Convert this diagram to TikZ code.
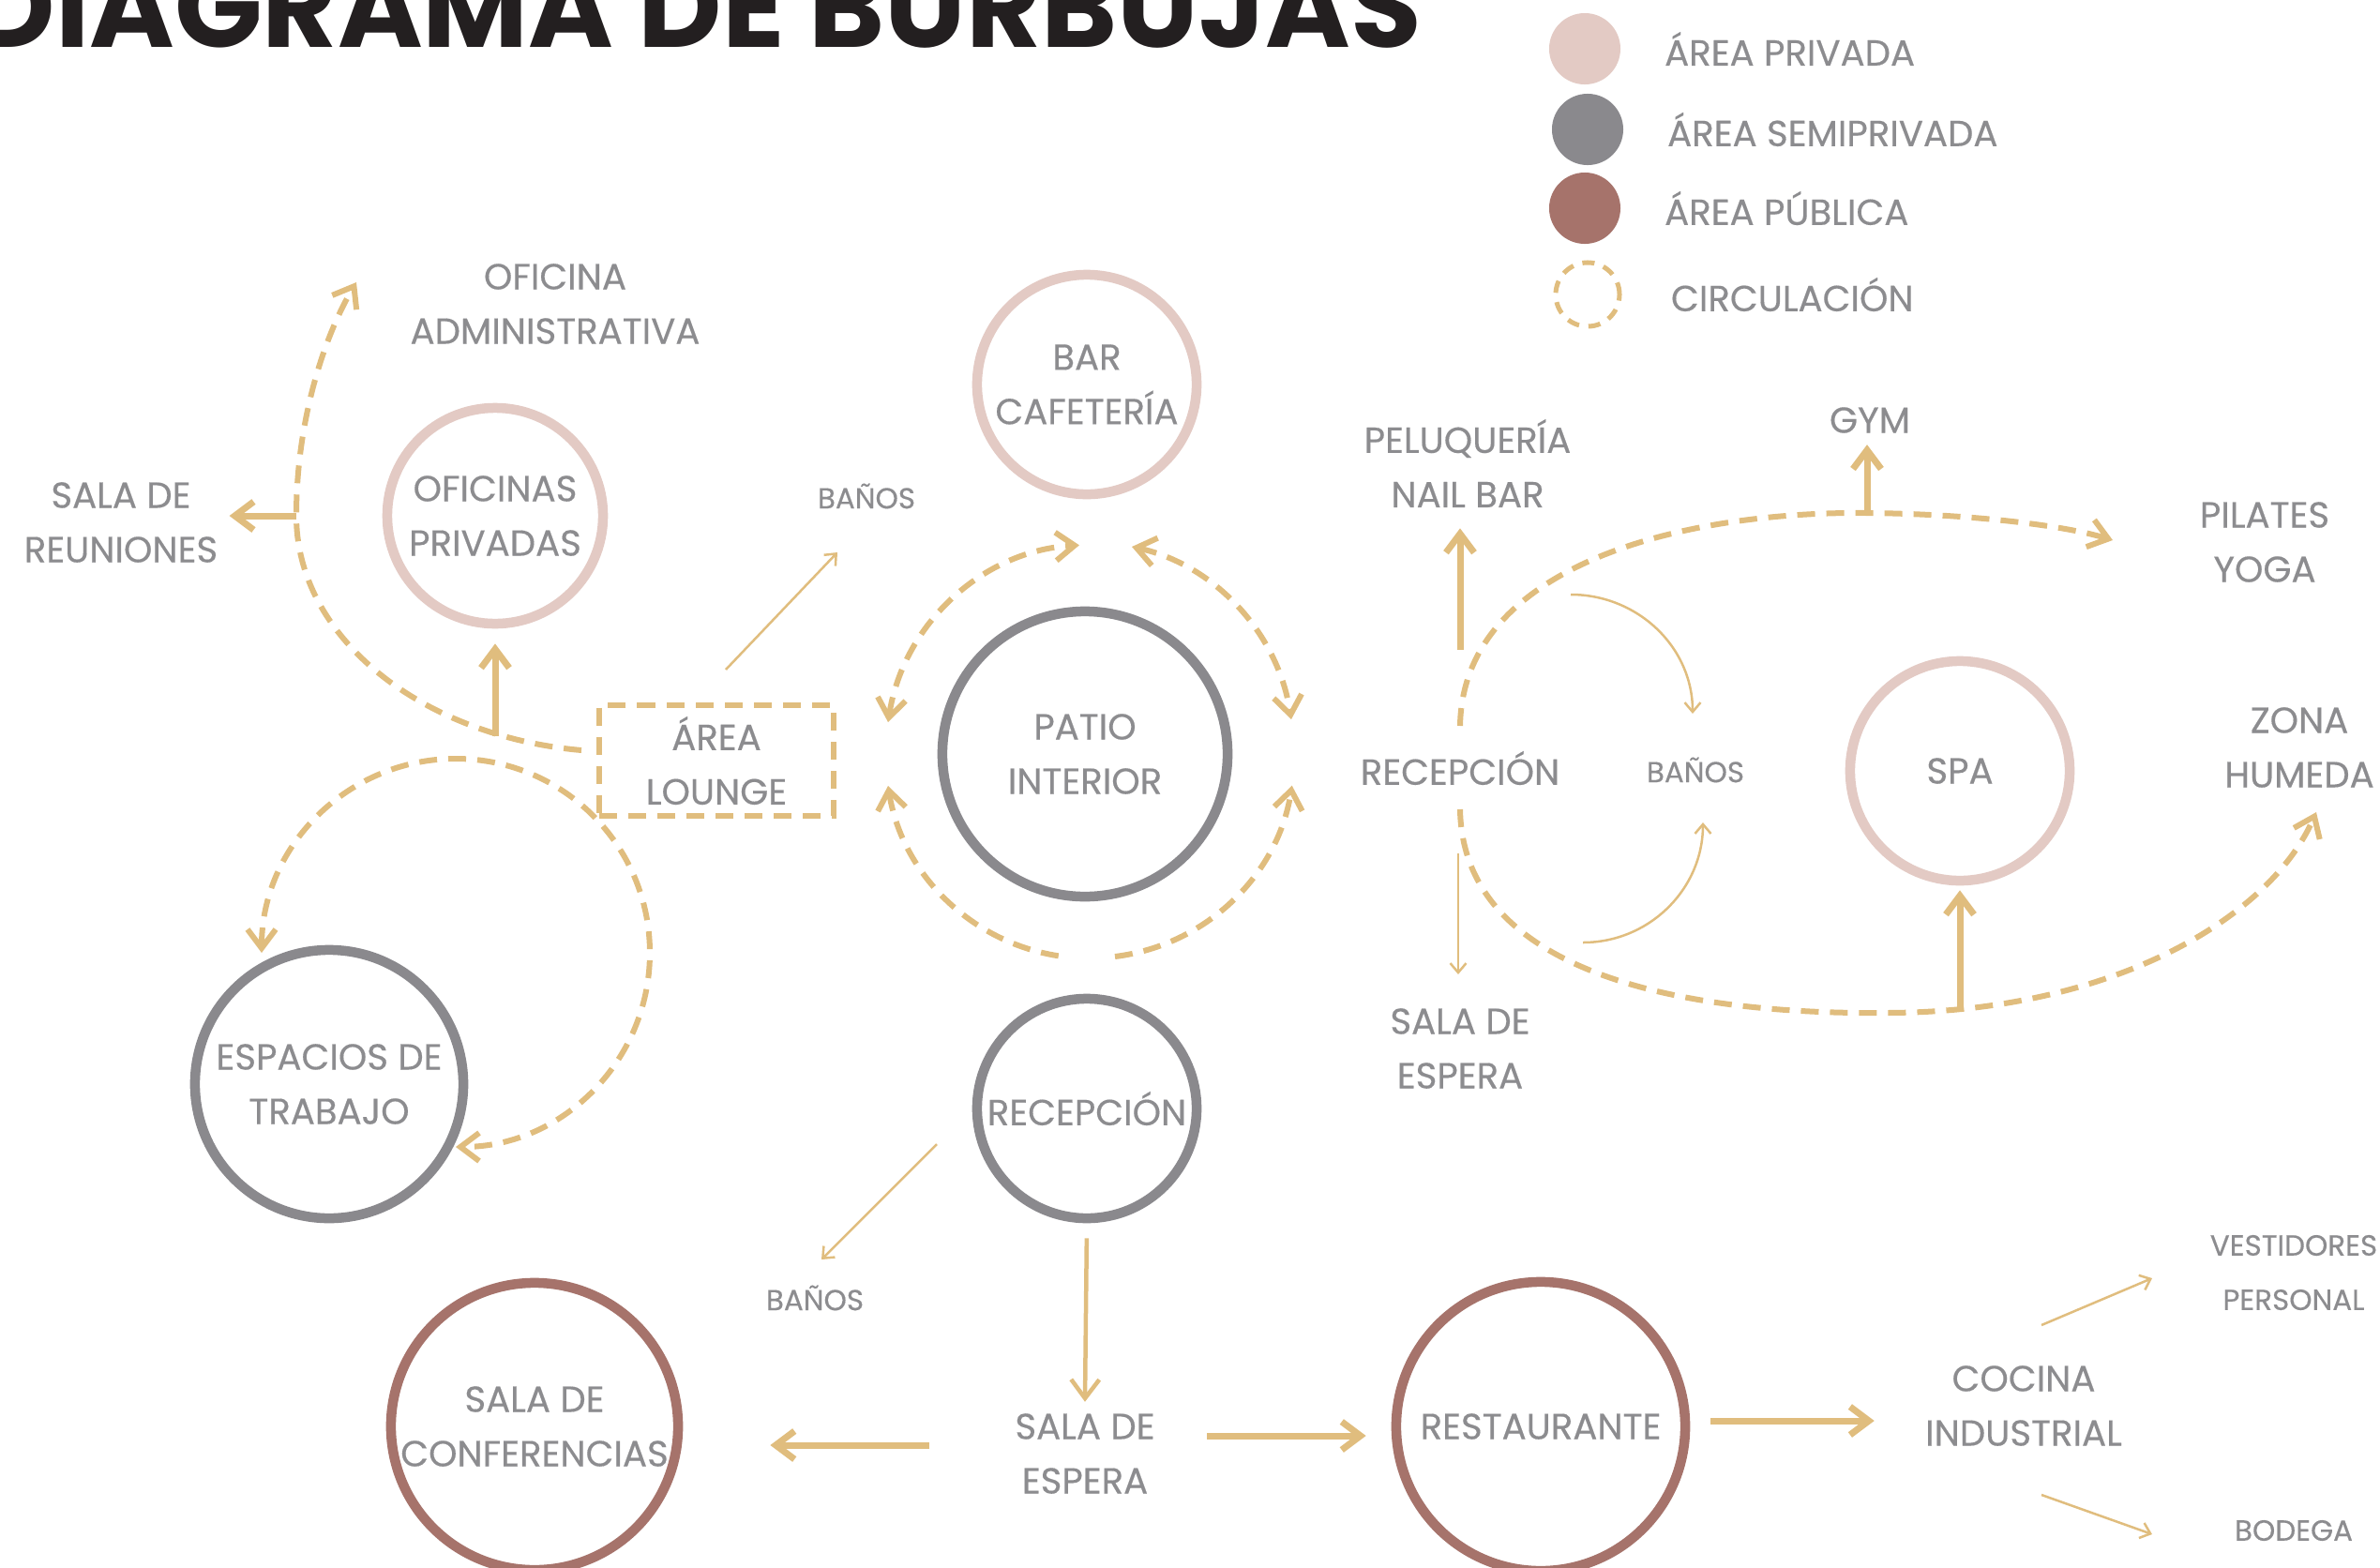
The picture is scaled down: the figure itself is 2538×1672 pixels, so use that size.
\documentclass[tikz,border=0pt]{standalone}
\usepackage{fontspec}
\setmainfont{Poppins}[UprightFeatures={FakeBold=0.35}]
\usetikzlibrary{arrows.meta, positioning}
\definecolor{privcol}{HTML}{E3CAC4}
\definecolor{semicol}{HTML}{8A898D}
\definecolor{pubcol}{HTML}{A6736B}
\definecolor{circcol}{HTML}{E0BD7E}
\definecolor{txtgray}{HTML}{8C8C8F}
\definecolor{titlecol}{HTML}{231F20}
\tikzset{%
  roomtext/.style={
    text=txtgray, align=center,
    font=\fontsize{11}{16.5}\selectfont},
  smalltext/.style={
    roomtext, font=\fontsize{8.8}{16.5}\selectfont},
  bubble/.style={
    circle, roomtext, inner sep=0pt,
    line width=0.105cm},
  privada/.style={bubble, draw=privcol},
  semi/.style={bubble, draw=semicol},
  publica/.style={bubble, draw=pubcol},
  legendball/.style={
    circle, minimum size=0.76cm, inner sep=0pt},
  flow/.style={
    draw=circcol, line width=0.07cm,
    -{Straight Barb[length=0.2cm, width=0.3cm]}},
  thinflow/.style={
    draw=circcol, line width=0.025cm,
    -{Straight Barb[length=0.1cm, width=0.17cm]}},
  circulation/.style={
    draw=circcol, line width=0.06cm,
    dash pattern=on 0.19cm off 0.12cm},
  barb/.tip={Straight Barb[length=0.2cm, width=0.3cm]} % dashed ends
}

\begin{document}
\begin{tikzpicture}[x=0.01cm, y=-0.01cm]
    \useasboundingbox (0,0) rectangle (2538,1672);
    \clip (0,0) rectangle (2538,1672);

    \node[anchor=base east, text=titlecol, inner sep=0pt,
      font=\fontsize{35}{35}\selectfont\bfseries]
      (titulo) at (1517,50) {DIAGRAMA DE BURBUJAS};

    % legend
    \node[legendball, fill=privcol] (l1) at (1690,52) {};
    \node[legendball, fill=semicol] (l2) at (1693,138) {};
    \node[legendball, fill=pubcol] (l3) at (1690,222) {};
    \node[legendball, minimum size=0.68cm, draw=circcol, line width=0.05cm,
      dash pattern=on 0.13cm off 0.1cm] (l4) at (1693,314) {};
    \node[roomtext, right=0.34cm of l1] (t1) {ÁREA PRIVADA};
    \node[roomtext, right=0.34cm of l2] (t2) {ÁREA SEMIPRIVADA};
    \node[roomtext, right=0.34cm of l3] (t3) {ÁREA PÚBLICA};
    \node[roomtext, right=0.4cm of l4] (t4) {CIRCULACIÓN};

    % bubbles
    \node[privada, minimum size=2.3cm] (ofp) at (528,550) {OFICINAS\\PRIVADAS};
    \node[privada, minimum size=2.34cm] (bar) at (1159,410) {BAR\\CAFETERÍA};
    \node[semi, minimum size=3.04cm] (patio) at (1157,804) {PATIO\\INTERIOR};
    \node[semi, minimum size=2.86cm] (esp) at (351,1156) {ESPACIOS DE\\TRABAJO};
    \node[semi, minimum size=2.34cm] (rec) at (1159,1182) {RECEPCIÓN};
    \node[publica, minimum size=3.06cm] (conf) at (570,1521) {SALA DE\\CONFERENCIAS};
    \node[publica, minimum size=3.08cm] (rest) at (1643,1521) {RESTAURANTE};
    \node[privada, minimum size=2.34cm] (spa) at (2090,822) {SPA};
    \node[roomtext, rectangle, circulation, minimum width=2.5cm,
      minimum height=1.08cm] (lng) at (764,811) {ÁREA\\LOUNGE};

    % free labels
    \node[roomtext] (adm) at (592,324) {OFICINA\\ADMINISTRATIVA};
    \node[roomtext] (reu) at (129,557) {SALA DE\\REUNIONES};
    \node[smalltext] (banA) at (924,529) {BAÑOS};
    \node[roomtext] (pel) at (1565,494) {PELUQUERÍA\\NAIL BAR};
    \node[roomtext] (gym) at (1994,448) {GYM};
    \node[roomtext] (pil) at (2415,578) {PILATES\\YOGA};
    \node[roomtext] (recR) at (1557,819) {RECEPCIÓN};
    \node[smalltext] (banB) at (1808,821) {BAÑOS};
    \node[roomtext] (zona) at (2452,797) {ZONA\\HUMEDA};
    \node[roomtext] (espR) at (1557,1118) {SALA DE\\ESPERA};
    \node[smalltext] (banC) at (869,1384) {BAÑOS};
    \node[roomtext] (espB) at (1157,1550) {SALA DE\\ESPERA};
    \node[roomtext] (coc) at (2158,1499) {COCINA\\INDUSTRIAL};
    \node[smalltext] (vest) at (2446,1357) {VESTIDORES\\PERSONAL};
    \node[smalltext] (bod) at (2446,1632) {BODEGA};

    % ends of the circulation lines
    \coordinate (admStart) at (620,800);
    \coordinate (jR) at (316,550);
    \coordinate (admEnd) at (380,301);
    \coordinate (jO) at (528,785);
    \coordinate (espStart) at (279,1016);
    \coordinate (lensTop) at (1557,774);
    \coordinate (jG) at (1991,547);
    \coordinate (pilEnd) at (2253,576);
    \coordinate (lensBot) at (1557,863);
    \coordinate (jS) at (2090,1078);
    \coordinate (zonaEnd) at (2470,866);
    \coordinate (pelFoot) at (1557,693);
    \coordinate (espLeft) at (991,1541);
    \coordinate (espRight) at (1287,1531);
    \coordinate (restRight) at (1824,1515);
    \coordinate (lngTop) at (774,714);
    \coordinate (banATip) at (893,589);
    \coordinate (recFoot) at (1555,910);
    \coordinate (espRTip) at (1555,1039);
    \coordinate (banB1) at (1675,634);
    \coordinate (banB1Tip) at (1805,761);
    \coordinate (banB2) at (1688,1005);
    \coordinate (banB2Tip) at (1816,877);
    \coordinate (recSide) at (999,1220);
    \coordinate (banCTip) at (876,1343);
    \coordinate (cocUp) at (2177,1413);
    \coordinate (vestTip) at (2295,1363);
    \coordinate (cocDown) at (2177,1594);
    \coordinate (bodTip) at (2295,1636);

    % circulation
    \draw[circulation, -barb] (admStart)
      .. controls (450,785) and (316,680) .. (jR)
      .. controls (316,450) and (345,360) .. (admEnd);
    \draw[circulation, barb-barb] (espStart)
      arc[start angle=180, end angle=450, radius=207];
    \draw[circulation, barb-barb] (947,770)
      arc[start angle=189, end angle=267, x radius=218, y radius=224];
    \draw[circulation, barb-barb] (1207,583)
      arc[start angle=282, end angle=351, x radius=218, y radius=224];
    \draw[circulation, barb-] (947,838)
      arc[start angle=171, end angle=97, radius=218];
    \draw[circulation, -barb] (1189,1020)
      arc[start angle=83, end angle=9, radius=218];
    \draw[circulation, -barb] (lensTop)
      .. controls (1560,600) and (1800,545) .. (jG)
      .. controls (2100,548) and (2200,560) .. (pilEnd);
    \draw[circulation, -barb] (lensBot)
      .. controls (1560,1040) and (1800,1082) .. (2010,1080)
      .. controls (2250,1080) and (2420,980) .. (zonaEnd);

    % flows
    \path[every edge/.style={flow}]
      (jR) edge (jR -| reu.east)
      (jO) edge[shorten >=0.16cm] (ofp.south)
      (pelFoot) edge[shorten >=0.1cm] (pelFoot |- pel.south)
      (jG) edge (jG |- gym.south)
      (jS) edge[shorten >=0.05cm] (spa.south)
      (rec.south) edge[line width=0.045cm, shorten <=0.16cm] (espB.north)
      (espLeft) edge[shorten >=0.93cm] (espLeft -| conf.east)
      (espRight) edge[shorten >=0.27cm] (espRight -| rest.west)
      (restRight) edge[shorten >=0.42cm] (restRight -| coc.west)
    ;
    \path[every edge/.style={thinflow}]
      (lngTop) edge (banATip)
      (recFoot) edge (espRTip)
      (banB1) edge[out=0, in=90] (banB1Tip)
      (banB2) edge[out=0, in=-90] (banB2Tip)
      (recSide) edge (banCTip)
      (cocUp) edge (vestTip)
      (cocDown) edge (bodTip)
    ;
\end{tikzpicture}
\end{document}
